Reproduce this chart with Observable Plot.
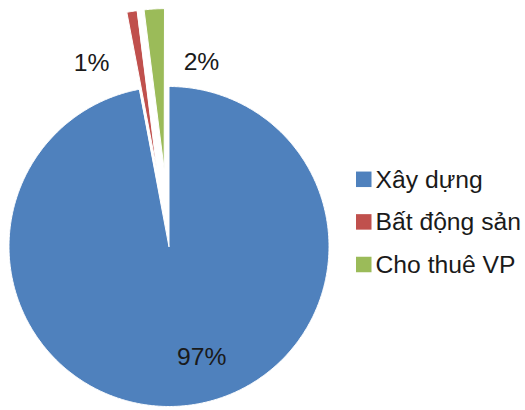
<!DOCTYPE html>
<html>
<head>
<meta charset="utf-8">
<script src="https://cdn.jsdelivr.net/npm/d3@7"></script>
<script src="https://cdn.jsdelivr.net/npm/@observablehq/plot@0.6"></script>
<style>
  html, body { margin: 0; padding: 0; background: #ffffff; }
  #chart svg { display: block; font-family: "Liberation Sans", Arial, sans-serif; }
</style>
</head>
<body>
<div id="chart"></div>
<script>
// Revenue structure by business line (percent)
const categories = ["Xây dựng", "Bất động sản", "Cho thuê VP"];
const shares = [97, 1, 2];
const valueLabels = ["97%", "1%", "2%"];
const colors = ["#4F81BD", "#C0504D", "#9BBB59"];

// Layout
const W = 525, H = 410;
const cx = 168.5, cy = 246, R = 160;
const explode = [0, 78, 78];              // outward offset of each slice
const labelPolar = [[163.5, 115], [-22.9, 199], [10.0, 187]]; // [angle°, distance] from pie centre
const legend = {x: 356, size: 15.5, textX: 375, y0: 179.3, step: 42.6};
const fontSize = 24.7;

const rows = categories.map((cat, i) => ({cat, share: shares[i], label: valueLabels[i], i}));
const arcs = d3.pie().sort(null).value(d => d.share)(rows);

// Slice outlines: apex followed by points along the outer arc
const outline = [];
for (const a of arcs) {
  const i = a.data.i;
  const mid = (a.startAngle + a.endAngle) / 2;
  const ox = cx + explode[i] * Math.sin(mid);
  const oy = cy - explode[i] * Math.cos(mid);
  outline.push({cat: a.data.cat, x: ox, y: oy});
  const n = Math.max(4, Math.ceil((a.endAngle - a.startAngle) * 180 / Math.PI * 2));
  for (let k = 0; k <= n; ++k) {
    const t = a.startAngle + (a.endAngle - a.startAngle) * k / n;
    outline.push({cat: a.data.cat, x: ox + R * Math.sin(t), y: oy - R * Math.cos(t)});
  }
}

const labelRows = rows.map((d, i) => {
  const [deg, dist] = labelPolar[i];
  const t = deg * Math.PI / 180;
  return {text: d.label, x: cx + dist * Math.sin(t), y: cy - dist * Math.cos(t)};
});

const legendRows = rows.map((d, i) => {
  const yc = legend.y0 + i * legend.step;
  return {
    cat: d.cat,
    x1: legend.x, x2: legend.x + legend.size,
    y1: yc - legend.size / 2, y2: yc + legend.size / 2,
    tx: legend.textX, ty: yc
  };
});

const chart = Plot.plot({
  width: W,
  height: H,
  margin: 0,
  x: {domain: [0, W], range: [0, W], axis: null},
  y: {domain: [0, H], range: [0, H], axis: null},
  color: {domain: categories, range: colors},
  style: {background: "#ffffff", fontFamily: "'Liberation Sans', Arial, sans-serif"},
  marks: [
    Plot.line(outline, {
      x: "x", y: "y", z: "cat", fill: "cat",
      stroke: "#ffffff", strokeWidth: 1, curve: "linear-closed"
    }),
    Plot.text(labelRows, {
      x: "x", y: "y", text: "text",
      fontSize, fill: "#1a1a1a", textAnchor: "middle"
    }),
    Plot.rect(legendRows, {x1: "x1", x2: "x2", y1: "y1", y2: "y2", fill: "cat"}),
    Plot.text(legendRows, {
      x: "tx", y: "ty", text: "cat",
      fontSize, fill: "#1a1a1a", textAnchor: "start"
    })
  ]
});

document.getElementById("chart").appendChild(chart);
</script>
</body>
</html>
